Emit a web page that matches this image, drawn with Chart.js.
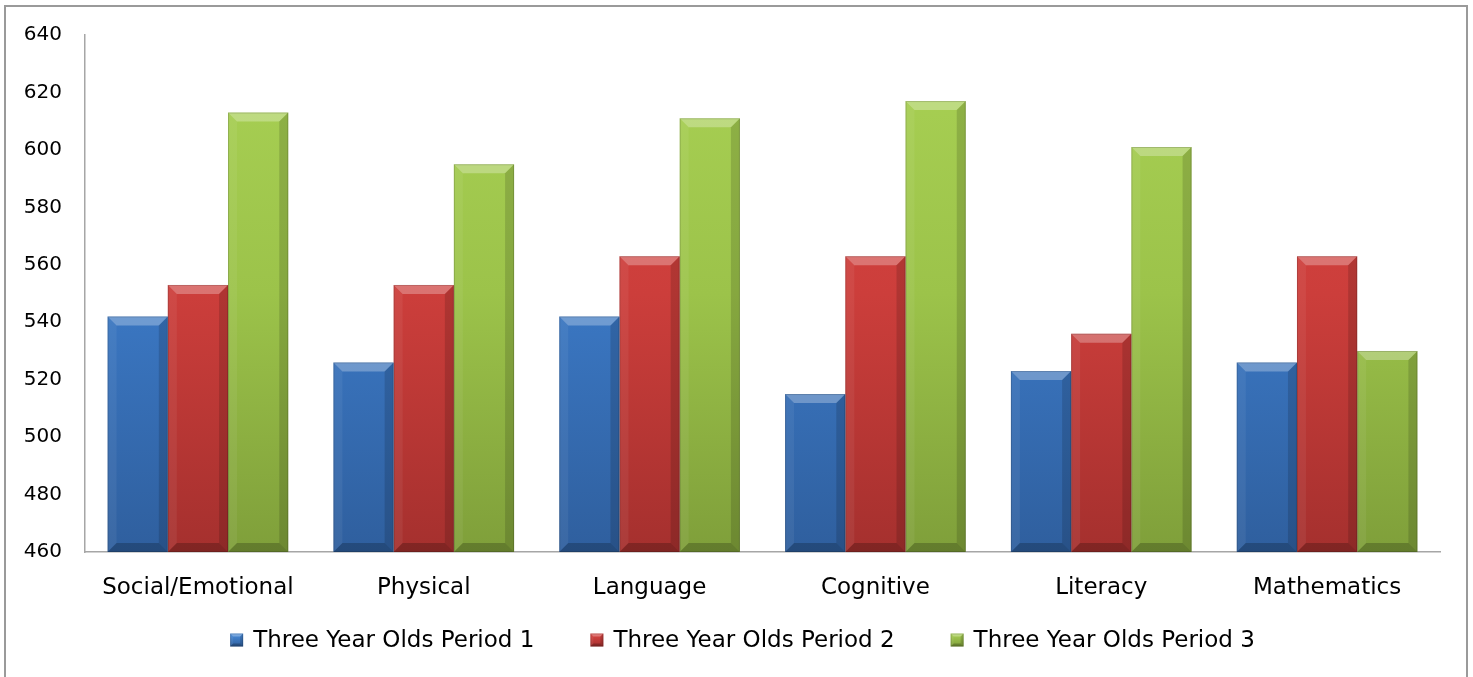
<!DOCTYPE html>
<html>
<head>
<meta charset="utf-8">
<script src="https://cdn.jsdelivr.net/npm/chart.js@4.4.1/dist/chart.umd.min.js"></script>
<style>
  html, body { margin: 0; padding: 0; background: #ffffff; }
  #wrap { position: relative; width: 1473px; height: 677px; }
</style>
</head>
<body>
<div id="wrap"><canvas id="chart" width="1473" height="677"></canvas></div>
<script>
// Domain scores per category
const categories = ['Social/Emotional', 'Physical', 'Language', 'Cognitive', 'Literacy', 'Mathematics'];
const period1 = [542, 526, 542, 515, 523, 526];
const period2 = [553, 553, 563, 563, 536, 563];
const period3 = [613, 595, 611, 617, 601, 530];
const seriesNames = ['Three Year Olds Period 1', 'Three Year Olds Period 2', 'Three Year Olds Period 3'];
const yMin = 460, yMax = 640, yStep = 20;

// top / bottom shades for each series
const palettes = [
  { top: '#4a8ddc', mid: '#3b78c4', bottom: '#2f5f9e' },
  { top: '#dc4744', mid: '#cc3e3b', bottom: '#a5302e' },
  { top: '#a9d154', mid: '#9cc34a', bottom: '#7f9f3a' }
];

function barGradient(ctx, pal) {
  const area = ctx.chart.chartArea;
  if (!area) return pal.mid;
  const g = ctx.chart.ctx.createLinearGradient(0, area.top, 0, area.bottom);
  g.addColorStop(0, pal.top);
  g.addColorStop(0.5, pal.mid);
  g.addColorStop(1, pal.bottom);
  return g;
}

// outer frame of the chart
const framePlugin = {
  id: 'frame',
  beforeDraw(chart) {
    const c = chart.ctx;
    c.save();
    c.fillStyle = '#ffffff';
    c.fillRect(0, 0, chart.width, chart.height);
    c.strokeStyle = '#9a9a9a';
    c.lineWidth = 2;
    c.strokeRect(5, 6, 1462, 672);
    c.restore();
  }
};

function bevel(c, x0, x1, yT, yB, b) {
  b = Math.min(b, (yB - yT) / 2, (x1 - x0) / 2);
  const poly = (pts, fill) => {
    c.beginPath();
    c.moveTo(pts[0][0], pts[0][1]);
    for (let i = 1; i < pts.length; i++) c.lineTo(pts[i][0], pts[i][1]);
    c.closePath();
    c.fillStyle = fill;
    c.fill();
  };
  // top face
  poly([[x0, yT], [x1, yT], [x1 - b, yT + b], [x0 + b, yT + b]], 'rgba(255,255,255,0.28)');
  // left face
  poly([[x0, yT], [x0 + b, yT + b], [x0 + b, yB - b], [x0, yB]], 'rgba(255,255,255,0.06)');
  // right face
  poly([[x1, yT], [x1 - b, yT + b], [x1 - b, yB - b], [x1, yB]], 'rgba(0,0,0,0.14)');
  // bottom face
  poly([[x0, yB], [x0 + b, yB - b], [x1 - b, yB - b], [x1, yB]], 'rgba(0,0,0,0.22)');
  // thin outline
  c.strokeStyle = 'rgba(0,0,0,0.15)';
  c.lineWidth = 1;
  c.strokeRect(x0 + 0.5, yT + 0.5, x1 - x0 - 1, yB - yT - 1);
}

// bevelled look on each bar, using the bar elements' own geometry
const bevelPlugin = {
  id: 'bevel',
  afterDatasetsDraw(chart) {
    const c = chart.ctx;
    const area = chart.chartArea;
    c.save();
    chart.data.datasets.forEach((ds, i) => {
      const meta = chart.getDatasetMeta(i);
      meta.data.forEach(bar => {
        const p = bar.getProps(['x', 'y', 'base', 'width'], true);
        const x0 = p.x - p.width / 2, x1 = p.x + p.width / 2;
        const yT = Math.max(Math.min(p.y, p.base), area.top);
        const yB = Math.min(Math.max(p.y, p.base), area.bottom);
        bevel(c, x0, x1, yT, yB, 9);
      });
    });
    c.restore();
  }
};

// legend row below the category labels
const legendPlugin = {
  id: 'rowLegend',
  afterDraw(chart) {
    const c = chart.ctx;
    c.save();
    c.font = '23px "DejaVu Sans"';
    c.textBaseline = 'middle';
    c.textAlign = 'left';
    const box = 13, gapText = 10, gapItem = 56, cy = 640;
    const items = chart.data.datasets.map((ds, i) => ({
      text: ds.label, pal: palettes[i], w: box + gapText + c.measureText(ds.label).width
    }));
    const total = items.reduce((s, it) => s + it.w, 0) + gapItem * (items.length - 1);
    let x = chart.width / 2 - total / 2 + 6;
    items.forEach(it => {
      const g = c.createLinearGradient(0, cy - box / 2, 0, cy + box / 2);
      g.addColorStop(0, it.pal.top);
      g.addColorStop(1, it.pal.bottom);
      c.fillStyle = g;
      c.fillRect(x, cy - box / 2, box, box);
      bevel(c, x, x + box, cy - box / 2, cy + box / 2, 3);
      c.fillStyle = '#000000';
      c.fillText(it.text, x + box + gapText, cy + 1);
      x += it.w + gapItem;
    });
    c.restore();
  }
};

const seriesData = [period1, period2, period3];

new Chart(document.getElementById('chart'), {
  type: 'bar',
  data: {
    labels: categories,
    datasets: seriesData.map((vals, i) => ({
      label: seriesNames[i],
      data: vals,
      backgroundColor: ctx => barGradient(ctx, palettes[i]),
      borderWidth: 0,
      categoryPercentage: 0.8,
      barPercentage: 1.0
    }))
  },
  options: {
    responsive: false,
    animation: false,
    layout: { padding: { top: 33, right: 33, bottom: 0, left: 0 } },
    plugins: {
      legend: { display: false },
      tooltip: { enabled: false }
    },
    scales: {
      x: {
        grid: { display: false, drawTicks: false },
        border: { display: true, color: '#a6a6a6', width: 1.5 },
        ticks: {
          color: '#000000',
          font: { family: 'DejaVu Sans', size: 23 },
          padding: 22,
          maxRotation: 0
        },
        afterFit(scale) { scale.height = 125; }
      },
      y: {
        min: yMin,
        max: yMax,
        grid: { display: false, drawTicks: false },
        border: { display: true, color: '#a6a6a6', width: 1.5 },
        ticks: {
          stepSize: yStep,
          color: '#000000',
          font: { family: 'DejaVu Sans', size: 20 },
          padding: 23
        },
        afterFit(scale) { scale.width = 85; }
      }
    }
  },
  plugins: [framePlugin, bevelPlugin, legendPlugin]
});
</script>
</body>
</html>
